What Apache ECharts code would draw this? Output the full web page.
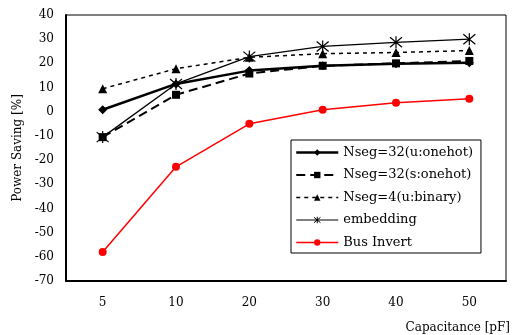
<!DOCTYPE html>
<html>
<head>
<meta charset="utf-8">
<script src="https://cdn.jsdelivr.net/npm/echarts@6/dist/echarts.min.js"></script>
<style>
html,body{margin:0;padding:0;background:#fff;}
#container{width:512px;height:335px;}
</style>
</head>
<body>
<div id="container"></div>
<script>
var categories = ['5', '10', '20', '30', '40', '50'];
var nseg32u = [0.8, 11.5, 17, 19, 19.8, 20.3];
var nseg32s = [-10.5, 7, 15.8, 19, 20, 21];
var nseg4u = [9.5, 17.8, 22.5, 24, 24.5, 25.3];
var embedding = [-10.5, 11.5, 22.8, 27, 28.7, 30];
var busInvert = [-58, -22.8, -5, 0.8, 3.7, 5.4];
var names = ['Nseg=32(u:onehot)', 'Nseg=32(s:onehot)', 'Nseg=4(u:binary)', 'embedding', 'Bus Invert'];

var serif = '"DejaVu Serif", "Liberation Serif", serif';
var star = 'path://M0,0L10,10M10,0L0,10M5,-1L5,11';

var myChart = echarts.init(document.getElementById('container'));
var option = {
    animation: false,
    textStyle: { fontFamily: serif, color: '#000' },
    grid: {
        left: 66, right: 6, top: 15, bottom: 54,
        show: true, borderColor: '#000', borderWidth: 1
    },
    legend: {
        orient: 'vertical',
        left: 291, top: 140,
        data: [
            { name: names[0], lineStyle: { width: 2.5 } },
            { name: names[1], lineStyle: { width: 2 } },
            { name: names[2], lineStyle: { width: 1.5 } },
            { name: names[3], lineStyle: { width: 1.2 }, itemStyle: { borderWidth: 1 } },
            { name: names[4], lineStyle: { width: 1.5 } }
        ],
        backgroundColor: '#fff',
        borderColor: '#000',
        borderWidth: 1,
        padding: [6, 8, 4, 4],
        itemWidth: 42,
        itemHeight: 8,
        itemGap: 9.5,
        textStyle: { fontFamily: serif, fontSize: 13, color: '#000' }
    },
    xAxis: {
        type: 'category',
        data: categories,
        axisLine: { onZero: false, lineStyle: { color: '#000', width: 2 } },
        axisTick: { show: false },
        axisLabel: { fontFamily: serif, fontSize: 12, color: '#000', margin: 16 }
    },
    yAxis: {
        type: 'value',
        min: -70, max: 40, interval: 10,
        name: 'Power Saving [%]',
        nameLocation: 'middle',
        nameGap: 42,
        nameTextStyle: { fontFamily: serif, fontSize: 12, color: '#000' },
        axisLine: { show: true, lineStyle: { color: '#000', width: 2 } },
        axisTick: { show: false },
        splitLine: { show: false },
        axisLabel: { fontFamily: serif, fontSize: 12, color: '#000', margin: 12 }
    },
    graphic: [{
        type: 'text', right: 2, bottom: 1,
        style: { text: 'Capacitance [pF]', font: '12px ' + serif, fill: '#000' }
    }],
    series: [
        {
            name: names[0], type: 'line', data: nseg32u,
            symbol: 'diamond', symbolSize: 9,
            lineStyle: { color: '#000', width: 2.5 },
            itemStyle: { color: '#000' }
        },
        {
            name: names[1], type: 'line', data: nseg32s,
            symbol: 'rect', symbolSize: 8,
            lineStyle: { color: '#000', width: 2, type: [9, 5] },
            itemStyle: { color: '#000' }
        },
        {
            name: names[2], type: 'line', data: nseg4u,
            symbol: 'triangle', symbolSize: 9,
            lineStyle: { color: '#000', width: 1.5, type: [4, 4] },
            itemStyle: { color: '#000' }
        },
        {
            name: names[3], type: 'line', data: embedding,
            symbol: star, symbolSize: 12,
            lineStyle: { color: '#000', width: 1.3 },
            itemStyle: { color: '#000', borderColor: '#000', borderWidth: 1.2 }
        },
        {
            name: names[4], type: 'line', data: busInvert,
            symbol: 'circle', symbolSize: 8,
            lineStyle: { color: '#ff0000', width: 1.5 },
            itemStyle: { color: '#ff0000' }
        }
    ]
};
myChart.setOption(option);
</script>
</body>
</html>
